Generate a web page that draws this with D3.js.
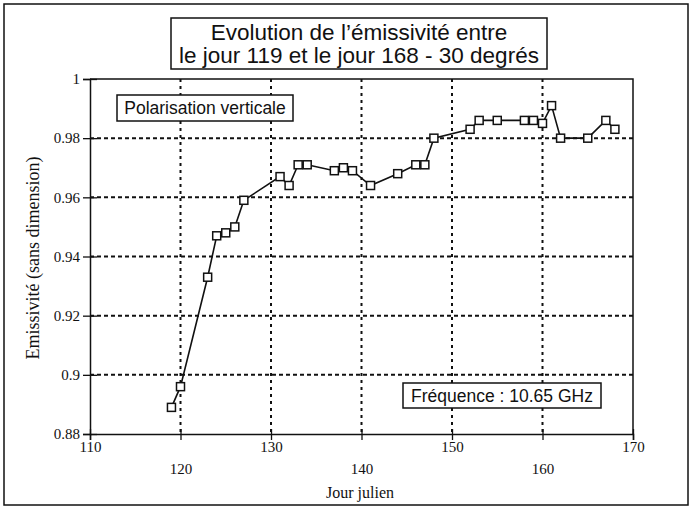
<!DOCTYPE html>
<html>
<head>
<meta charset="utf-8">
<script src="https://cdn.jsdelivr.net/npm/d3@7"></script>
<style>
  html, body { margin: 0; padding: 0; background: #fff; }
  svg { display: block; }
</style>
</head>
<body>
<svg id="chart" width="694" height="510"></svg>
<script>
// Émissivité en polarisation verticale, 10.65 GHz, incidence 30°
const days = [119, 120, 123, 124, 125, 126, 127, 131, 132, 133, 134, 137, 138, 139, 141,
              144, 146, 147, 148, 152, 153, 155, 158, 159, 160, 161, 162, 165, 167, 168];
const emissivity = [0.889, 0.896, 0.933, 0.947, 0.948, 0.950, 0.959, 0.967, 0.964, 0.971,
                    0.971, 0.969, 0.970, 0.969, 0.964, 0.968, 0.971, 0.971, 0.980, 0.983,
                    0.986, 0.986, 0.986, 0.986, 0.985, 0.991, 0.980, 0.980, 0.986, 0.983];
const xTicks = [110, 120, 130, 140, 150, 160, 170];
const yTicks = [0.88, 0.9, 0.92, 0.94, 0.96, 0.98, 1];
const yTickLabels = ["0.88", "0.9", "0.92", "0.94", "0.96", "0.98", "1"];
const titleLines = ["Evolution de l\u2019émissivité entre", "le jour 119 et le jour 168 - 30 degrés"];
const polarLabel = "Polarisation verticale";
const freqLabel = "Fréquence : 10.65 GHz";
const xTitle = "Jour julien";
const yTitle = "Emissivité (sans dimension)";

const svg = d3.select("#chart");
const sans = "'Liberation Sans', Arial, Helvetica, sans-serif";
const serif = "'Liberation Serif', 'Times New Roman', serif";

const plot = { left: 90, right: 633, top: 79, bottom: 434 };
const x = d3.scaleLinear().domain([110, 170]).range([plot.left, plot.right]);
const y = d3.scaleLinear().domain([0.88, 1]).range([plot.bottom, plot.top]);

// Outer frame
svg.append("rect").attr("x", 4).attr("y", 4).attr("width", 684).attr("height", 501)
  .attr("fill", "none").attr("stroke", "#111").attr("stroke-width", 1.5);

// Title box
const tb = svg.append("g");
tb.append("rect").attr("x", 171).attr("y", 18).attr("width", 376).attr("height", 51)
  .attr("fill", "#fff").attr("stroke", "#111").attr("stroke-width", 1.5);
tb.selectAll("text").data(titleLines).join("text")
  .attr("x", 359).attr("y", (d, i) => 40 + i * 23)
  .attr("text-anchor", "middle").attr("font-family", sans).attr("font-size", 22.5)
  .attr("fill", "#111").text(d => d);

// Dashed grid
const inner = xTicks.filter(d => d > 110 && d < 170);
const innerY = yTicks.filter(d => d > 0.88 && d < 1);
svg.append("g").selectAll("line").data(inner).join("line")
  .attr("x1", d => x(d)).attr("x2", d => x(d))
  .attr("y1", plot.top).attr("y2", plot.bottom)
  .attr("stroke", "#111").attr("stroke-width", 2).attr("stroke-dasharray", "3,4");
svg.append("g").selectAll("line").data(innerY).join("line")
  .attr("x1", plot.left).attr("x2", plot.right)
  .attr("y1", d => y(d)).attr("y2", d => y(d))
  .attr("stroke", "#111").attr("stroke-width", 2).attr("stroke-dasharray", "4,3");

// Plot frame (top and right)
svg.append("path")
  .attr("d", `M${plot.left},${plot.top}H${plot.right}V${plot.bottom}`)
  .attr("fill", "none").attr("stroke", "#111").attr("stroke-width", 1.5);

// Y axis
const yAxis = svg.append("g").attr("transform", `translate(${plot.left},0)`)
  .call(d3.axisLeft(y).tickValues(yTicks).tickSize(7).tickPadding(3)
    .tickFormat((d, i) => yTickLabels[i]));
yAxis.select(".domain").attr("stroke", "#111").attr("stroke-width", 1.5);
yAxis.selectAll(".tick line").attr("x2", 7).attr("x1", -7).attr("stroke", "#111").attr("stroke-width", 1.3);
yAxis.selectAll(".tick text").attr("font-family", serif).attr("font-size", 15).attr("fill", "#111")
  .attr("x", -10);

// X axis with staggered labels
const xAxis = svg.append("g").attr("transform", `translate(0,${plot.bottom})`)
  .call(d3.axisBottom(x).tickValues(xTicks).tickSize(6).tickFormat(d3.format("d")));
xAxis.select(".domain").attr("stroke", "#111").attr("stroke-width", 1.5);
xAxis.selectAll(".tick line").attr("y1", -5).attr("y2", 6).attr("stroke", "#111").attr("stroke-width", 1.3);
xAxis.selectAll(".tick text").attr("font-family", serif).attr("font-size", 15).attr("fill", "#111")
  .attr("y", (d, i) => (i % 2 === 0 ? 7 : 29));

// Axis titles
svg.append("text").attr("x", 360).attr("y", 498).attr("text-anchor", "middle")
  .attr("font-family", serif).attr("font-size", 16).attr("fill", "#111").text(xTitle);
svg.append("text").attr("transform", "translate(39,258) rotate(-90)").attr("text-anchor", "middle")
  .attr("font-family", serif).attr("font-size", 18).attr("fill", "#111").text(yTitle);

// Series line and square markers
const pts = days.map((d, i) => [d, emissivity[i]]);
svg.append("path").datum(pts)
  .attr("d", d3.line().x(d => x(d[0])).y(d => y(d[1])))
  .attr("fill", "none").attr("stroke", "#111").attr("stroke-width", 1.6);
svg.append("g").selectAll("rect").data(pts).join("rect")
  .attr("x", d => x(d[0]) - 4).attr("y", d => y(d[1]) - 4)
  .attr("width", 8).attr("height", 8)
  .attr("fill", "#fff").attr("stroke", "#111").attr("stroke-width", 1.5);

// Annotation boxes
function labelBox(bx, by, bw, bh, text) {
  const g = svg.append("g");
  g.append("rect").attr("x", bx).attr("y", by).attr("width", bw).attr("height", bh)
    .attr("fill", "#fff").attr("stroke", "#111").attr("stroke-width", 1.5);
  g.append("text").attr("x", bx + bw / 2).attr("y", by + bh / 2 + 6)
    .attr("text-anchor", "middle").attr("font-family", sans).attr("font-size", 17.5)
    .attr("fill", "#111").text(text);
}
labelBox(117, 95, 176, 26, polarLabel);
labelBox(403, 383, 198, 25, freqLabel);
</script>
</body>
</html>
